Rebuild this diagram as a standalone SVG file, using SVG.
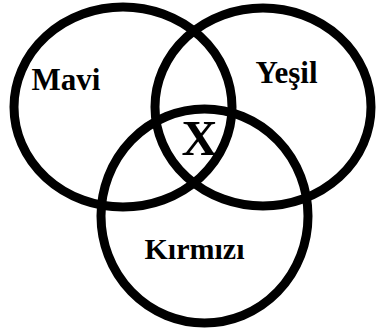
<svg xmlns="http://www.w3.org/2000/svg" width="376" height="333" viewBox="0 0 376 333">
<style>
.c{fill:none;stroke:#000;stroke-width:9}
.t{font-family:"Liberation Serif","Times New Roman",serif;font-weight:bold;fill:#000;text-anchor:middle}
</style>
<rect width="376" height="333" fill="#fff"/>
<g id="mavi">
<ellipse class="c" cx="123" cy="107" rx="109" ry="100"/>
<text class="t" x="66" y="90" font-size="31">Mavi</text>
</g>
<g id="yesil">
<ellipse class="c" cx="263" cy="107" rx="108" ry="99"/>
<text class="t" x="286.5" y="83" font-size="31">Yeşil</text>
</g>
<g id="kirmizi">
<ellipse class="c" cx="204.5" cy="216" rx="103.5" ry="107"/>
<text class="t" x="194.5" y="259" font-size="30">Kırmızı</text>
</g>
<g id="x">
<text class="t" x="199.5" y="155" font-size="50">X</text>
</g>
<g id="connectors"/>
</svg>
